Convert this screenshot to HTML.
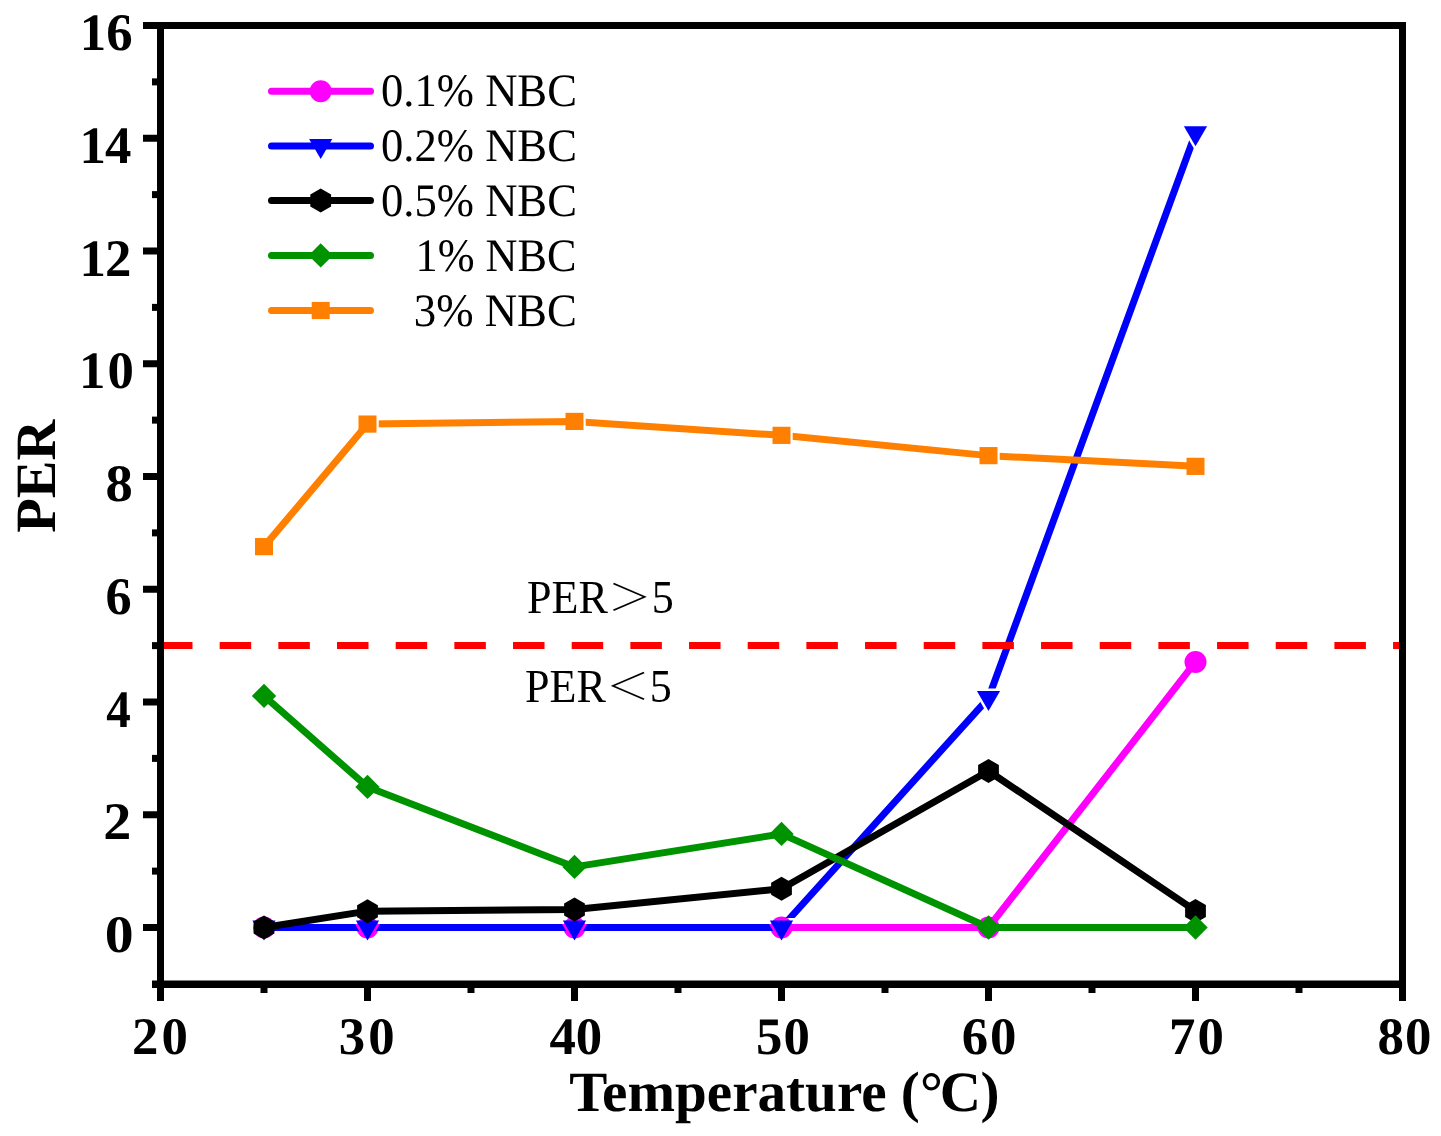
<!DOCTYPE html>
<html lang="en">
<head>
<meta charset="utf-8">
<title>PER vs Temperature</title>
<style>
html,body{margin:0;padding:0;background:#fff;}
body{width:1441px;height:1136px;overflow:hidden;position:relative;}
svg{display:block;position:absolute;left:0;top:0;will-change:transform;}
text{font-family:"Liberation Serif","Noto Serif CJK SC",serif;fill:#000;text-rendering:geometricPrecision;}
.b{font-weight:bold;}
.note{position:absolute;margin:0;white-space:nowrap;font-family:"Liberation Serif","Noto Serif CJK SC",serif;font-size:46.5px;line-height:60px;height:60px;color:#000;transform-origin:0 0;}
.note span{display:inline-block;font-family:"Noto Serif CJK SC","Liberation Serif",serif;transform-origin:50% 50%;}
</style>
</head>
<body>
<svg width="1441" height="1136" viewBox="0 0 1441 1136">
<rect x="0" y="0" width="1441" height="1136" fill="#fff"/>

<defs>
<mask id="m1" maskUnits="userSpaceOnUse" x="0" y="0" width="1441" height="1136"><rect x="0" y="0" width="1441" height="1136" fill="#fff"/>
<polygon points="252.4,920.5 275.6,920.5 264,940.5" fill="#000" stroke="#000" stroke-width="5" stroke-linejoin="miter"/>
<polygon points="355.9,920.5 379.1,920.5 367.5,940.5" fill="#000" stroke="#000" stroke-width="5" stroke-linejoin="miter"/>
<polygon points="562.9,920.5 586.1,920.5 574.5,940.5" fill="#000" stroke="#000" stroke-width="5" stroke-linejoin="miter"/>
<polygon points="769.9,920.5 793.1,920.5 781.5,940.5" fill="#000" stroke="#000" stroke-width="5" stroke-linejoin="miter"/>
<polygon points="976.9,691.05 1000.1,691.05 988.5,711.05" fill="#000" stroke="#000" stroke-width="5" stroke-linejoin="miter"/>
<polygon points="1183.9,126.18 1207.1,126.18 1195.5,146.18" fill="#000" stroke="#000" stroke-width="5" stroke-linejoin="miter"/>
</mask>
<mask id="m4" maskUnits="userSpaceOnUse" x="0" y="0" width="1441" height="1136"><rect x="0" y="0" width="1441" height="1136" fill="#fff"/>
<rect x="375.5" y="417.07" width="3.2" height="14" fill="#000"/>
<rect x="582.5" y="414.42" width="3.2" height="14" fill="#000"/>
<rect x="789.5" y="428.35" width="3.2" height="14" fill="#000"/>
<rect x="996.5" y="448.64" width="3.2" height="14" fill="#000"/>
<rect x="1203.5" y="459.35" width="3.2" height="14" fill="#000"/>
</mask>
</defs>
<g id="s0">
<polyline points="264,927.5 367.5,927.5 574.5,927.5 781.5,927.5 988.5,927.5 1195.5,661.97" fill="none" stroke="#FF00FF" stroke-width="7" stroke-linejoin="round" stroke-linecap="round"/>
<circle cx="264" cy="927.5" r="11" fill="#FF00FF"/>
<circle cx="367.5" cy="927.5" r="11" fill="#FF00FF"/>
<circle cx="574.5" cy="927.5" r="11" fill="#FF00FF"/>
<circle cx="781.5" cy="927.5" r="11" fill="#FF00FF"/>
<circle cx="988.5" cy="927.5" r="11" fill="#FF00FF"/>
<circle cx="1195.5" cy="661.97" r="11" fill="#FF00FF"/>
</g>
<g id="s1">
<polyline points="264,927.5 367.5,927.5 574.5,927.5 781.5,927.5 988.5,698.05 1195.5,133.18" fill="none" stroke="#0000FF" stroke-width="7" stroke-linejoin="round" stroke-linecap="round" mask="url(#m1)"/>
<polygon points="252.4,920.5 275.6,920.5 264,940.5" fill="#0000FF"/>
<polygon points="355.9,920.5 379.1,920.5 367.5,940.5" fill="#0000FF"/>
<polygon points="562.9,920.5 586.1,920.5 574.5,940.5" fill="#0000FF"/>
<polygon points="769.9,920.5 793.1,920.5 781.5,940.5" fill="#0000FF"/>
<polygon points="976.9,691.05 1000.1,691.05 988.5,711.05" fill="#0000FF"/>
<polygon points="1183.9,126.18 1207.1,126.18 1195.5,146.18" fill="#0000FF"/>
</g>
<g id="s2">
<polyline points="264,927.5 367.5,911.15 574.5,909.46 781.5,888.71 988.5,771 1195.5,910.93" fill="none" stroke="#000000" stroke-width="7" stroke-linejoin="round" stroke-linecap="round"/>
<polygon points="264,915.5 274.39,921.5 274.39,933.5 264,939.5 253.61,933.5 253.61,921.5" fill="#000000"/>
<polygon points="367.5,899.15 377.89,905.15 377.89,917.15 367.5,923.15 357.11,917.15 357.11,905.15" fill="#000000"/>
<polygon points="574.5,897.46 584.89,903.46 584.89,915.46 574.5,921.46 564.11,915.46 564.11,903.46" fill="#000000"/>
<polygon points="781.5,876.71 791.89,882.71 791.89,894.71 781.5,900.71 771.11,894.71 771.11,882.71" fill="#000000"/>
<polygon points="988.5,759 998.89,765 998.89,777 988.5,783 978.11,777 978.11,765" fill="#000000"/>
<polygon points="1195.5,898.93 1205.89,904.93 1205.89,916.93 1195.5,922.93 1185.11,916.93 1185.11,904.93" fill="#000000"/>
</g>
<g id="s3">
<polyline points="264,695.91 367.5,786.9 574.5,866.9 781.5,833.92 988.5,927.5 1195.5,927.5" fill="none" stroke="#009300" stroke-width="7" stroke-linejoin="round" stroke-linecap="round"/>
<polygon points="264,683.71 276.2,695.91 264,708.11 251.8,695.91" fill="#009300"/>
<polygon points="367.5,774.7 379.7,786.9 367.5,799.1 355.3,786.9" fill="#009300"/>
<polygon points="574.5,854.7 586.7,866.9 574.5,879.1 562.3,866.9" fill="#009300"/>
<polygon points="781.5,821.72 793.7,833.92 781.5,846.12 769.3,833.92" fill="#009300"/>
<polygon points="988.5,915.3 1000.7,927.5 988.5,939.7 976.3,927.5" fill="#009300"/>
<polygon points="1195.5,915.3 1207.7,927.5 1195.5,939.7 1183.3,927.5" fill="#009300"/>
</g>
<g id="s4">
<polyline points="264,546.63 367.5,424.07 574.5,421.42 781.5,435.35 988.5,455.64 1195.5,466.35" fill="none" stroke="#FF8000" stroke-width="7" stroke-linejoin="round" stroke-linecap="round" mask="url(#m4)"/>
<polygon points="255,538.03 273,538.03 273,555.23 255,555.23" fill="#FF8000"/>
<polygon points="358.5,415.47 376.5,415.47 376.5,432.67 358.5,432.67" fill="#FF8000"/>
<polygon points="565.5,412.82 583.5,412.82 583.5,430.02 565.5,430.02" fill="#FF8000"/>
<polygon points="772.5,426.75 790.5,426.75 790.5,443.95 772.5,443.95" fill="#FF8000"/>
<polygon points="979.5,447.04 997.5,447.04 997.5,464.24 979.5,464.24" fill="#FF8000"/>
<polygon points="1186.5,457.75 1204.5,457.75 1204.5,474.95 1186.5,474.95" fill="#FF8000"/>
</g>
<line x1="161" y1="645.5" x2="1400" y2="645.5" stroke="#FF0000" stroke-width="7" stroke-dasharray="31.5 27.17"/>
<g fill="#000">
<rect x="143" y="22" width="1263" height="7"/>
<rect x="157" y="22" width="7" height="979"/>
<rect x="1399" y="22" width="7" height="979"/>
<rect x="152" y="980.5" width="1254" height="7.5"/>
<rect x="143" y="924" width="15" height="7"/>
<rect x="152" y="867.62" width="6" height="7"/>
<rect x="143" y="811.25" width="15" height="7"/>
<rect x="152" y="754.88" width="6" height="7"/>
<rect x="143" y="698.5" width="15" height="7"/>
<rect x="152" y="642.12" width="6" height="7"/>
<rect x="143" y="585.75" width="15" height="7"/>
<rect x="152" y="529.38" width="6" height="7"/>
<rect x="143" y="473" width="15" height="7"/>
<rect x="152" y="416.62" width="6" height="7"/>
<rect x="143" y="360.25" width="15" height="7"/>
<rect x="152" y="303.88" width="6" height="7"/>
<rect x="143" y="247.5" width="15" height="7"/>
<rect x="152" y="191.12" width="6" height="7"/>
<rect x="143" y="134.75" width="15" height="7"/>
<rect x="152" y="78.38" width="6" height="7"/>
<rect x="260.5" y="987" width="7" height="6"/>
<rect x="364" y="987" width="7" height="14"/>
<rect x="467.5" y="987" width="7" height="6"/>
<rect x="571" y="987" width="7" height="14"/>
<rect x="674.5" y="987" width="7" height="6"/>
<rect x="778" y="987" width="7" height="14"/>
<rect x="881.5" y="987" width="7" height="6"/>
<rect x="985" y="987" width="7" height="14"/>
<rect x="1088.5" y="987" width="7" height="6"/>
<rect x="1192" y="987" width="7" height="14"/>
<rect x="1295.5" y="987" width="7" height="6"/>
</g>
<text class="b" font-size="52.8" transform="translate(79.8,50)">16</text>
<text class="b" font-size="52.8" transform="translate(79.5,162.75)" style="letter-spacing:-1px">14</text>
<text class="b" font-size="52.8" transform="translate(79.5,275.5)" style="letter-spacing:-1px">12</text>
<text class="b" font-size="52.8" transform="translate(79,388.25)" style="letter-spacing:2px">10</text>
<text class="b" font-size="52.8" transform="translate(105.4,501) scale(1.0329,1)">8</text>
<text class="b" font-size="52.8" transform="translate(105.4,613.75) scale(0.9898,1)">6</text>
<text class="b" font-size="52.8" transform="translate(106.2,726.5) scale(0.9309,1)">4</text>
<text class="b" font-size="52.8" transform="translate(103.3,839.25) scale(1.0636,1)">2</text>
<text class="b" font-size="52.8" transform="translate(104.8,952) scale(1.0936,1)">0</text>
<text class="b" font-size="52.8" transform="translate(132,1053.5)" style="letter-spacing:3px">20</text>
<text class="b" font-size="52.8" transform="translate(338.75,1053.5)" style="letter-spacing:3px">30</text>
<text class="b" font-size="52.8" transform="translate(549.4,1053.5)">40</text>
<text class="b" font-size="52.8" transform="translate(756.1,1053.5)" style="letter-spacing:1px">50</text>
<text class="b" font-size="52.8" transform="translate(961.7,1053.5)" style="letter-spacing:2px">60</text>
<text class="b" font-size="52.8" transform="translate(1169,1053.5)" style="letter-spacing:2px">70</text>
<text class="b" font-size="52.8" transform="translate(1377.5,1053.5)" style="letter-spacing:1px">80</text>
<text class="b" font-size="57" transform="translate(569.2,1111) scale(1.0024,1)">Temperature (°<tspan dx="-3">C</tspan><tspan dx="-0.5">)</tspan></text>
<text font-size="46.5" transform="translate(381,106.2) scale(0.9599,1)">0.1% NBC</text>
<text font-size="46.5" transform="translate(381,161.2) scale(0.9599,1)">0.2% NBC</text>
<text font-size="46.5" transform="translate(381,216.3) scale(0.9599,1)">0.5% NBC</text>
<text font-size="46.5" transform="translate(415.6,271.3) scale(0.9509,1)">1% NBC</text>
<text font-size="46.5" transform="translate(413.8,326.4) scale(0.9636,1)">3% NBC</text>
<text class="b" font-size="57" transform="translate(55,476.2) rotate(-90) scale(0.99,1)" text-anchor="middle">PER</text>
<line x1="271.5" y1="91.2" x2="370.5" y2="91.2" stroke="#FF00FF" stroke-width="7" stroke-linecap="round"/>
<circle cx="320.7" cy="91.2" r="11" fill="#FF00FF"/>
<line x1="271.5" y1="146.1" x2="370.5" y2="146.1" stroke="#0000FF" stroke-width="7" stroke-linecap="round"/>
<polygon points="309.1,139.1 332.3,139.1 320.7,159.1" fill="#0000FF"/>
<line x1="271.5" y1="200.6" x2="370.5" y2="200.6" stroke="#000000" stroke-width="7" stroke-linecap="round"/>
<polygon points="320.7,188.6 331.09,194.6 331.09,206.6 320.7,212.6 310.31,206.6 310.31,194.6" fill="#000000"/>
<line x1="271.5" y1="255.4" x2="370.5" y2="255.4" stroke="#009300" stroke-width="7" stroke-linecap="round"/>
<polygon points="320.7,243.2 332.9,255.4 320.7,267.6 308.5,255.4" fill="#009300"/>
<line x1="271.5" y1="310.5" x2="370.5" y2="310.5" stroke="#FF8000" stroke-width="7" stroke-linecap="round"/>
<polygon points="311.7,301.9 329.7,301.9 329.7,319.1 311.7,319.1" fill="#FF8000"/>
</svg>
<p class="note" style="left:527px;top:563px;transform:scaleX(0.947)">PER<span style="transform:translateY(1.9px) scaleY(0.8)">＞</span>5</p>
<p class="note" style="left:525.2px;top:652px;transform:scaleX(0.947)">PER<span style="transform:translateY(1.9px) scaleY(0.8)">＜</span>5</p>
</body>
</html>
